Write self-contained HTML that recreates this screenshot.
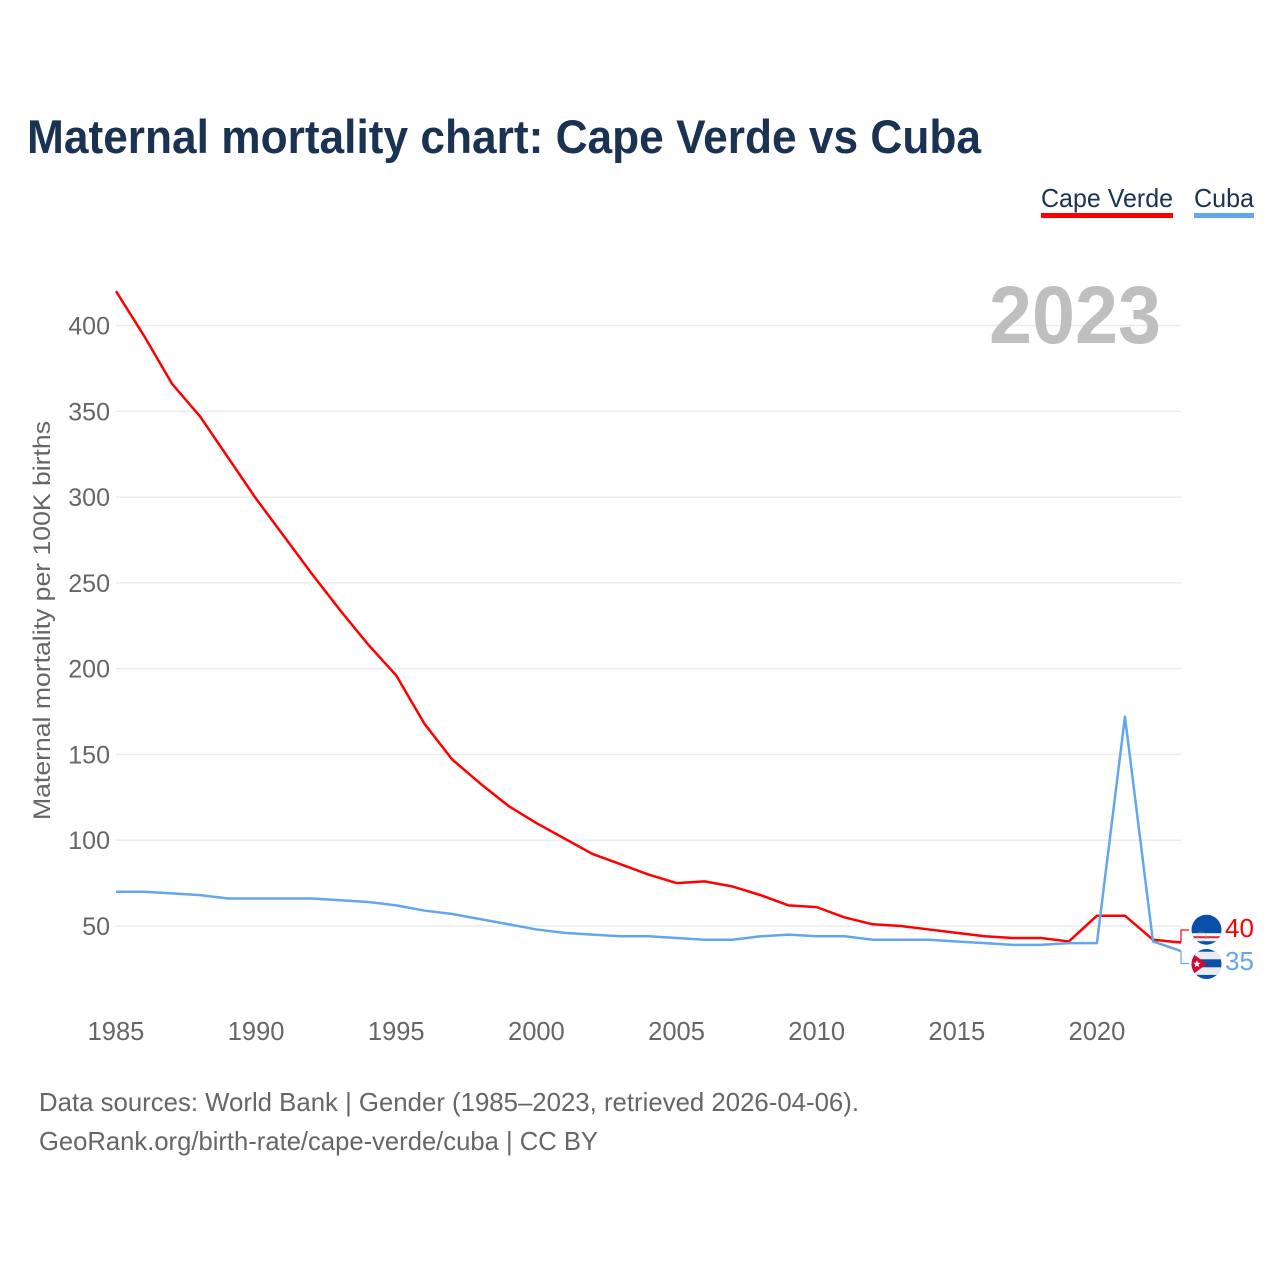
<!DOCTYPE html>
<html lang="en">
<head>
<meta charset="utf-8">
<title>Maternal mortality chart: Cape Verde vs Cuba</title>
<style>
html,body{margin:0;padding:0;background:#fff;}
svg{display:block;font-family:"Liberation Sans",sans-serif;}
</style>
</head>
<body>
<svg id="chart" xmlns="http://www.w3.org/2000/svg" width="1280" height="1280" viewBox="0 0 1280 1280">
  <defs>
    <clipPath id="cv-clip"><circle cx="1206.5" cy="929.7" r="15"/></clipPath>
    <clipPath id="cu-clip"><circle cx="1206.5" cy="964" r="15"/></clipPath>
  </defs>
  <rect width="1280" height="1280" fill="#fff"/>
  <text x="27" y="153" font-size="47" font-weight="700" fill="#1a3353" textLength="954" lengthAdjust="spacingAndGlyphs">Maternal mortality chart: Cape Verde vs Cuba</text>

  <g>
    <g>
      <text x="1041" y="207" font-size="26" fill="#1a3353" textLength="132" lengthAdjust="spacingAndGlyphs">Cape Verde</text>
      <rect x="1041" y="213" width="132" height="5" fill="#ff0000"/>
    </g>
    <g>
      <text x="1194" y="207" font-size="26" fill="#1a3353" textLength="60" lengthAdjust="spacingAndGlyphs">Cuba</text>
      <rect x="1194" y="213" width="60" height="5" fill="#64a6ec"/>
    </g>
  </g>

  <text transform="translate(50,820) rotate(-90)" font-size="24" fill="#666" textLength="399" lengthAdjust="spacingAndGlyphs">Maternal mortality per 100K births</text>

  <g id="grid"></g>
  <g id="y-ticks"></g>
  <g id="x-ticks"></g>

  <text x="989" y="343" font-size="82" font-weight="700" fill="#bfbfbf" textLength="172" lengthAdjust="spacingAndGlyphs">2023</text>

  <g id="series"></g>

  <g clip-path="url(#cv-clip)">
    <rect x="1190" y="913" width="34" height="34" fill="#0a50a8"/>
    <rect x="1190" y="933.2" width="34" height="8" fill="#f4f4f4"/>
    <rect x="1190" y="936.2" width="34" height="2" fill="#d8283c"/>
    <circle cx="1201.5" cy="936.5" r="4.5" fill="none" stroke="#c9b45a" stroke-width="0.8" stroke-dasharray="1 1"/>
  </g>
  <g clip-path="url(#cu-clip)">
    <rect x="1190" y="948" width="34" height="32" fill="#0a50a8"/>
    <rect x="1190" y="951.7" width="34" height="7.6" fill="#ececec"/>
    <rect x="1190" y="967.3" width="34" height="7.6" fill="#ececec"/>
    <polygon points="1189,951 1207,964 1189,977" fill="#cf0a3a"/>
    <polygon points="1197,960 1197.9,962.8 1200.8,962.8 1198.5,964.5 1199.3,967.2 1197,965.6 1194.7,967.2 1195.5,964.5 1193.2,962.8 1196.1,962.8" fill="#fff"/>
  </g>

  <text x="39" y="1111" font-size="26" fill="#666" textLength="820" lengthAdjust="spacingAndGlyphs">Data sources: World Bank | Gender (1985–2023, retrieved 2026-04-06).</text>
  <text x="39" y="1150" font-size="26" fill="#666" textLength="559" lengthAdjust="spacingAndGlyphs">GeoRank.org/birth-rate/cape-verde/cuba | CC BY</text>
</svg>
<script>
const years = [1985,1986,1987,1988,1989,1990,1991,1992,1993,1994,1995,1996,1997,1998,1999,2000,2001,2002,2003,2004,2005,2006,2007,2008,2009,2010,2011,2012,2013,2014,2015,2016,2017,2018,2019,2020,2021,2022,2023];
const capeVerde = [420,394,366,347,323,299,277,255,234,214,196,168,147,133,120,110,101,92,86,80,75,76,73,68,62,61,55,51,50,48,46,44,43,43,41,56,56,42,40.4];
const cuba = [70,70,69,68,66,66,66,66,65,64,62,59,57,54,51,48,46,45,44,44,43,42,42,44,45,44,44,42,42,42,41,40,39,39,40,40,172,41,35.4];
const yTickValues = [50,100,150,200,250,300,350,400];
const xTickValues = [1985,1990,1995,2000,2005,2010,2015,2020];

const NS = 'http://www.w3.org/2000/svg';
function xScale(year){ return 116 + (year - 1985) * (1181 - 116) / 38; }
function yScale(v){ return 926 - (v - 50) * (926 - 325.5) / 350; }
function make(tag, parent){
  const el = document.createElementNS(NS, tag);
  parent.appendChild(el);
  return el;
}
const grid = document.getElementById('grid');
const yTicks = document.getElementById('y-ticks');
const xTicks = document.getElementById('x-ticks');
const seriesGroup = document.getElementById('series');
const chartRoot = document.getElementById('chart');

yTickValues.forEach(function(v){
  const line = make('line', grid);
  
  
  line.setAttribute('x1', xScale(1985));
  line.setAttribute('x2', xScale(2023));
  line.setAttribute('y1', yScale(v));
  line.setAttribute('y2', yScale(v));
  line.setAttribute('stroke', '#ebebeb');
  line.setAttribute('stroke-width', '1.5');
  const label = make('text', yTicks);
  
  
  label.setAttribute('x', 110);
  label.setAttribute('y', yScale(v) + 9);
  label.setAttribute('text-anchor', 'end');
  label.setAttribute('font-size', '25');
  label.setAttribute('fill', '#666');
  label.textContent = v;
});

xTickValues.forEach(function(y){
  const label = make('text', xTicks);
  
  
  label.setAttribute('x', xScale(y));
  label.setAttribute('y', 1040);
  label.setAttribute('text-anchor', 'middle');
  label.setAttribute('font-size', '25.5');
  label.setAttribute('fill', '#666');
  label.textContent = y;
});

function pathFor(values){
  return values.map(function(v, i){
    return (i ? 'L' : 'M') + xScale(years[i]).toFixed(2) + ' ' + yScale(v).toFixed(2);
  }).join(' ');
}

const cvLine = make('path', seriesGroup);


cvLine.setAttribute('d', pathFor(capeVerde));
cvLine.setAttribute('fill', 'none');
cvLine.setAttribute('stroke', '#ff0000');
cvLine.setAttribute('stroke-width', '2.5');
cvLine.setAttribute('stroke-linejoin', 'round');

const cuLine = make('path', seriesGroup);


cuLine.setAttribute('d', pathFor(cuba));
cuLine.setAttribute('fill', 'none');
cuLine.setAttribute('stroke', '#64a6ec');
cuLine.setAttribute('stroke-width', '2.5');
cuLine.setAttribute('stroke-linejoin', 'round');

const cvLast = capeVerde[capeVerde.length - 1];
const cuLast = cuba[cuba.length - 1];
const lastX = xScale(years[years.length - 1]);

const cvConnector = make('path', seriesGroup);


cvConnector.setAttribute('d', 'M' + lastX + ' ' + yScale(cvLast) + ' V930 H1189');
cvConnector.setAttribute('fill', 'none');
cvConnector.setAttribute('stroke', '#ff0000');
cvConnector.setAttribute('stroke-width', '1.2');

const cuConnector = make('path', seriesGroup);


cuConnector.setAttribute('d', 'M' + lastX + ' ' + yScale(cuLast) + ' V963.5 H1189');
cuConnector.setAttribute('fill', 'none');
cuConnector.setAttribute('stroke', '#64a6ec');
cuConnector.setAttribute('stroke-width', '1.2');

const cvValue = make('text', chartRoot);


cvValue.setAttribute('x', 1225);
cvValue.setAttribute('y', 937);
cvValue.setAttribute('font-size', '26');
cvValue.setAttribute('fill', '#ff0000');
cvValue.textContent = Math.round(cvLast);

const cuValue = make('text', chartRoot);


cuValue.setAttribute('x', 1225);
cuValue.setAttribute('y', 970);
cuValue.setAttribute('font-size', '26');
cuValue.setAttribute('fill', '#64a6ec');
cuValue.textContent = Math.round(cuLast);
</script>
</body>
</html>
